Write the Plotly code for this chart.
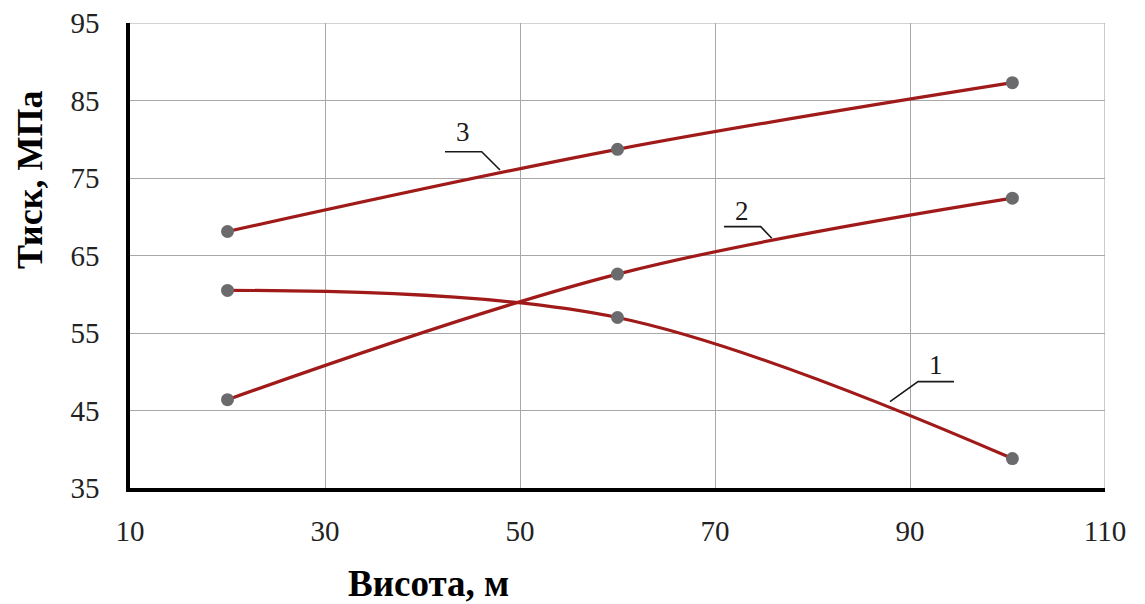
import plotly.graph_objects as go

# ---- data ----
height_m = [20, 60, 100.5]
curve1 = [60.5, 57.0, 38.8]
curve2 = [46.4, 62.6, 72.4]
curve3 = [68.1, 78.7, 87.3]
curve_names = ["1", "2", "3"]

x_ticks = [10, 30, 50, 70, 90, 110]
y_ticks = [35, 45, 55, 65, 75, 85, 95]

# label leader lines (annotation layout, data coordinates)
label_leaders = {
    "1": dict(line_x=[87.95, 90.82, 94.51], line_y=[46.14, 48.72, 48.72], text_xy=(92.67, 50.9)),
    "2": dict(line_x=[70.92, 74.69, 75.82], line_y=[68.72, 68.72, 67.22], text_xy=(72.74, 70.8)),
    "3": dict(line_x=[42.31, 46.07, 47.95], line_y=[78.39, 78.39, 76.03], text_xy=(44.12, 80.9)),
}

LINE_COLOR = "#A01A1A"
MARKER_COLOR = "#6B6B6E"
GRID_COLOR = "#A8A8A8"
FONT = "Liberation Serif, Times New Roman, serif"

fig = go.Figure()
for name, ys in zip(curve_names, [curve1, curve2, curve3]):
    fig.add_trace(go.Scatter(
        x=height_m, y=ys, mode="lines+markers", name=name,
        line=dict(color=LINE_COLOR, width=3.2, shape="spline", smoothing=1),
        marker=dict(color=MARKER_COLOR, size=13),
        showlegend=False, hoverinfo="x+y",
    ))

for name, d in label_leaders.items():
    fig.add_trace(go.Scatter(
        x=d["line_x"], y=d["line_y"], mode="lines",
        line=dict(color="#1a1a1a", width=1.6),
        showlegend=False, hoverinfo="skip",
    ))
    fig.add_annotation(x=d["text_xy"][0], y=d["text_xy"][1], text=name,
                       showarrow=False, xref="x", yref="y",
                       xanchor="center", yanchor="middle",
                       font=dict(family=FONT, size=27, color="#1a1a1a"))

fig.update_xaxes(
    range=[10, 110], tickvals=x_ticks, ticktext=[str(v) for v in x_ticks],
    showgrid=True, gridcolor=GRID_COLOR, gridwidth=1.2,
    showline=True, linecolor="black", linewidth=3.5,
    zeroline=False, ticks="outside", ticklen=14, tickcolor="rgba(0,0,0,0)",
    tickfont=dict(family=FONT, size=29, color="#222"), automargin=False,
    ticklabeloverflow="allow",
)
fig.update_yaxes(
    range=[35, 95], tickvals=y_ticks, ticktext=[str(v) for v in y_ticks],
    showgrid=True, gridcolor=GRID_COLOR, gridwidth=1.2,
    showline=True, linecolor="black", linewidth=3.5,
    zeroline=False, ticks="outside", ticklen=21, tickcolor="rgba(0,0,0,0)",
    tickfont=dict(family=FONT, size=29, color="#222"), automargin=False,
    ticklabeloverflow="allow",
)

# axis titles as annotations (positioned like the reference)
fig.add_annotation(text="<b>Висота, м</b>", xref="paper", yref="paper",
                   x=(428 - 130) / 975, y=-(583 - 488) / 465,
                   xanchor="center", yanchor="middle",
                   showarrow=False, font=dict(family=FONT, size=37, color="black"))
fig.add_annotation(text="<b>Тиск, МПа</b>", xref="paper", yref="paper",
                   x=-(130 - 30) / 975, y=(488 - 180) / 465, textangle=-90,
                   xanchor="center", yanchor="middle",
                   showarrow=False, font=dict(family=FONT, size=36, color="black"))

# plot-area border on the right (x=110) and top (y=95), grey like the grid
fig.add_shape(type="line", xref="x", yref="y", x0=110, x1=110, y0=35, y1=95,
              line=dict(color=GRID_COLOR, width=1.2), layer="below")
fig.add_shape(type="line", xref="x", yref="y", x0=10, x1=110, y0=95, y1=95,
              line=dict(color=GRID_COLOR, width=1.2), layer="below")

# the page adds an 8px body margin, so the figure is sized to fit the window
fig.update_layout(
    width=1137, height=596,
    margin=dict(l=122, r=40, t=15, b=116),
    plot_bgcolor="white", paper_bgcolor="white",
)

fig.write_html("out.html")
